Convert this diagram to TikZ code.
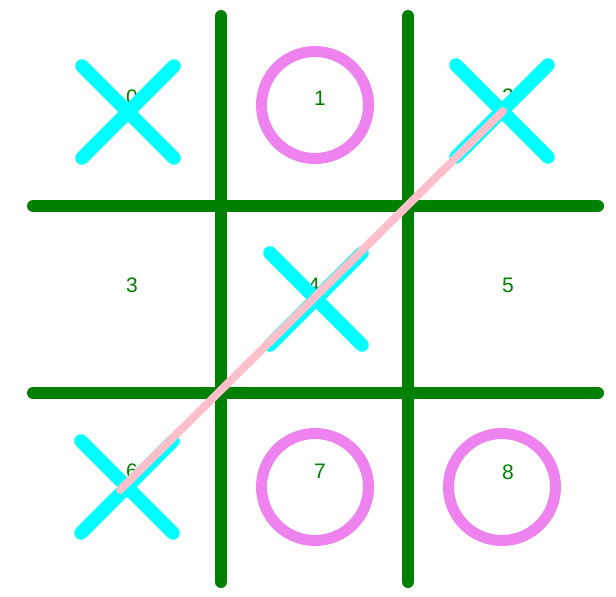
\documentclass[tikz,border=0pt]{standalone}
\usepackage{fontspec}
\setmainfont{Liberation Sans}
\definecolor{gridgreen}{RGB}{0,128,0}
\definecolor{xcyan}{RGB}{0,255,255}
\definecolor{oviolet}{RGB}{238,130,238}
\definecolor{winpink}{RGB}{255,192,203}
\tikzset{
  gridline/.style={draw=gridgreen, line width=12pt, line cap=round},
  xstroke/.style={draw=xcyan, line width=13.5pt, line cap=round},
  ostroke/.style={draw=oviolet, line width=11pt},
  celllabel/.style={text=gridgreen, font=\fontsize{21}{21}\selectfont, inner sep=0pt},
  winline/.style={draw=winpink, line width=8pt, line cap=round}
}
\begin{document}
\begin{tikzpicture}[x=1pt,y=-1pt]
\useasboundingbox (0,0) rectangle (616,597);
% grid
\coordinate (v1t) at (221,16);  \coordinate (v1b) at (221,582);
\coordinate (v2t) at (408,16);  \coordinate (v2b) at (408,582);
\coordinate (h1l) at (33,206);  \coordinate (h1r) at (598,206);
\coordinate (h2l) at (33,393);  \coordinate (h2r) at (598,393);
\draw[gridline] (v1t) -- (v1b);
\draw[gridline] (v2t) -- (v2b);
\draw[gridline] (h1l) -- (h1r);
\draw[gridline] (h2l) -- (h2r);
% labels
\node[celllabel] (l0) at (132,97) {0};
\node[celllabel] (l1) at (320,98) {1};
\node[celllabel] (l2) at (508,96) {2};
\node[celllabel] (l3) at (132,285) {3};
\node[celllabel] (l4) at (314,285) {4};
\node[celllabel] (l5) at (508,285) {5};
\node[celllabel] (l6) at (132,471) {6};
\node[celllabel] (l7) at (320,471) {7};
\node[celllabel] (l8) at (508,472) {8};
% X marks
\foreach \n/\cx/\cy in {x0/128/112, x2/502/111, x4/316/299, x6/127/487}{
  \coordinate (\n) at (\cx,\cy);
  \draw[xstroke] ([shift={(-46,-46)}]\n) -- ([shift={(46,46)}]\n);
  \draw[xstroke] ([shift={(46,-46)}]\n) -- ([shift={(-46,46)}]\n);
}
% O marks
\foreach \n/\cx/\cy in {o1/315/105, o7/315/487, o8/502/487}{
  \coordinate (\n) at (\cx,\cy);
  \draw[ostroke] (\n) circle[radius=53.5];
}
% winning line
\coordinate (w1) at (503,111);
\coordinate (w2) at (120,490);
\draw[winline] (w1) -- (w2);
\end{tikzpicture}
\end{document}
